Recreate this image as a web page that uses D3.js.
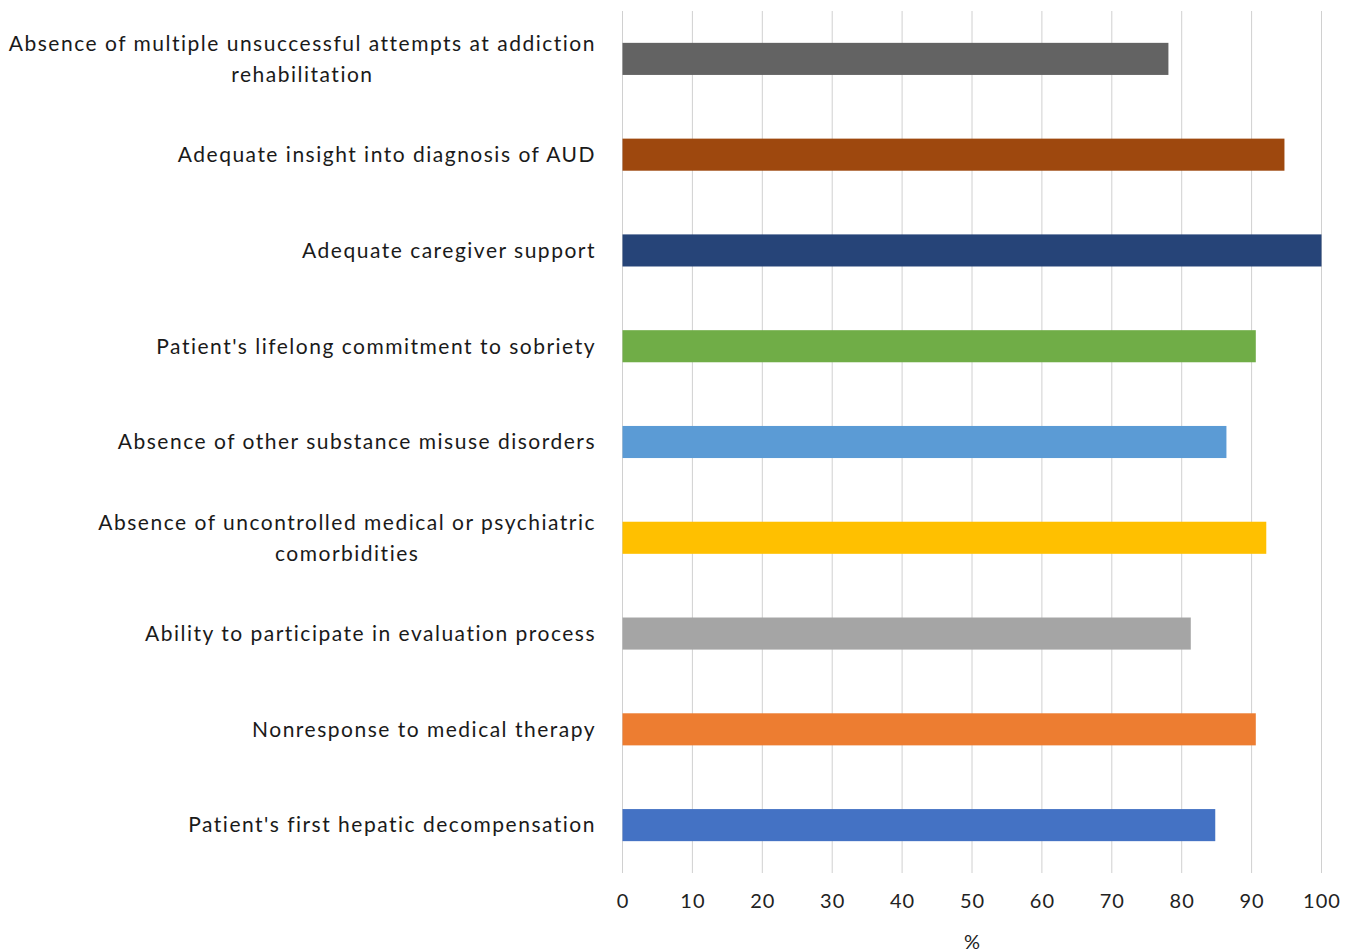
<!DOCTYPE html>
<html><head><meta charset="utf-8">
<script src="https://cdn.jsdelivr.net/npm/d3@7"></script>
<style>body{margin:0;background:#fff;} svg{display:block;}</style>
</head><body>
<script>
const categories = [
  ["Absence of multiple unsuccessful attempts at addiction", "rehabilitation"],
  ["Adequate insight into diagnosis of AUD"],
  ["Adequate caregiver support"],
  ["Patient's lifelong commitment to sobriety"],
  ["Absence of other substance misuse disorders"],
  ["Absence of uncontrolled medical or psychiatric", "comorbidities"],
  ["Ability to participate in evaluation process"],
  ["Nonresponse to medical therapy"],
  ["Patient's first hepatic decompensation"]
];
const values = [78.1, 94.7, 100, 90.6, 86.4, 92.1, 81.3, 90.6, 84.8];
const colors = ["#636363", "#9E480E", "#264478", "#70AD47", "#5B9BD5", "#FFC000", "#A5A5A5", "#ED7D31", "#4472C4"];
const xTicks = [0, 10, 20, 30, 40, 50, 60, 70, 80, 90, 100];
const xTitle = "%";

const W = 1353, H = 952;
const svg = d3.select("body").append("svg").attr("width", W).attr("height", H);
const font = "Lato, 'Open Sans', sans-serif";

const x = d3.scaleLinear().domain([0, 100]).range([622.5, 1321.5]);
const y = d3.scaleBand().domain(d3.range(categories.length)).range([11, 873]).paddingInner(0.665).paddingOuter(0.3325);

// gridlines
svg.append("g").selectAll("line").data(xTicks).join("line")
  .attr("x1", d => x(d)).attr("x2", d => x(d))
  .attr("y1", 11).attr("y2", 873)
  .attr("stroke", "#d0d0d0").attr("stroke-width", 1);

// bars
svg.append("g").selectAll("rect").data(values).join("rect")
  .attr("x", x(0)).attr("y", (d, i) => y(i))
  .attr("width", d => x(d) - x(0)).attr("height", y.bandwidth())
  .attr("fill", (d, i) => colors[i]);

// x axis tick labels
const xAxis = d3.axisBottom(x).tickValues(xTicks).tickSize(0).tickPadding(0);
const gx = svg.append("g").attr("transform", "translate(0,894)").call(xAxis);
gx.select(".domain").remove();
gx.selectAll("text").attr("font-family", font).attr("font-size", 20).attr("letter-spacing", 1)
  .attr("fill", "#222").attr("dy", "0.71em");

svg.append("text").attr("x", x(50)).attr("y", 949).attr("text-anchor", "middle")
  .attr("font-family", font).attr("font-size", 20).attr("fill", "#222").text(xTitle);

// category labels
const labelRight = 596;
const lh = 31;
const lg = svg.append("g");
categories.forEach((lines, i) => {
  const cy = y(i) + y.bandwidth() / 2;
  const t = lg.append("text").attr("font-family", font).attr("font-size", 21).attr("letter-spacing", 1.5)
    .attr("fill", "#1a1a1a").attr("text-anchor", "middle");
  const n = lines.length;
  lines.forEach((ln, k) => {
    t.append("tspan").attr("x", 0).attr("y", cy + (k - (n - 1) / 2) * lh).attr("dy", "0.35em").text(ln);
  });
  const w = t.node().getBBox().width;
  t.selectAll("tspan").attr("x", labelRight - w / 2);
});
</script>
</body></html>
